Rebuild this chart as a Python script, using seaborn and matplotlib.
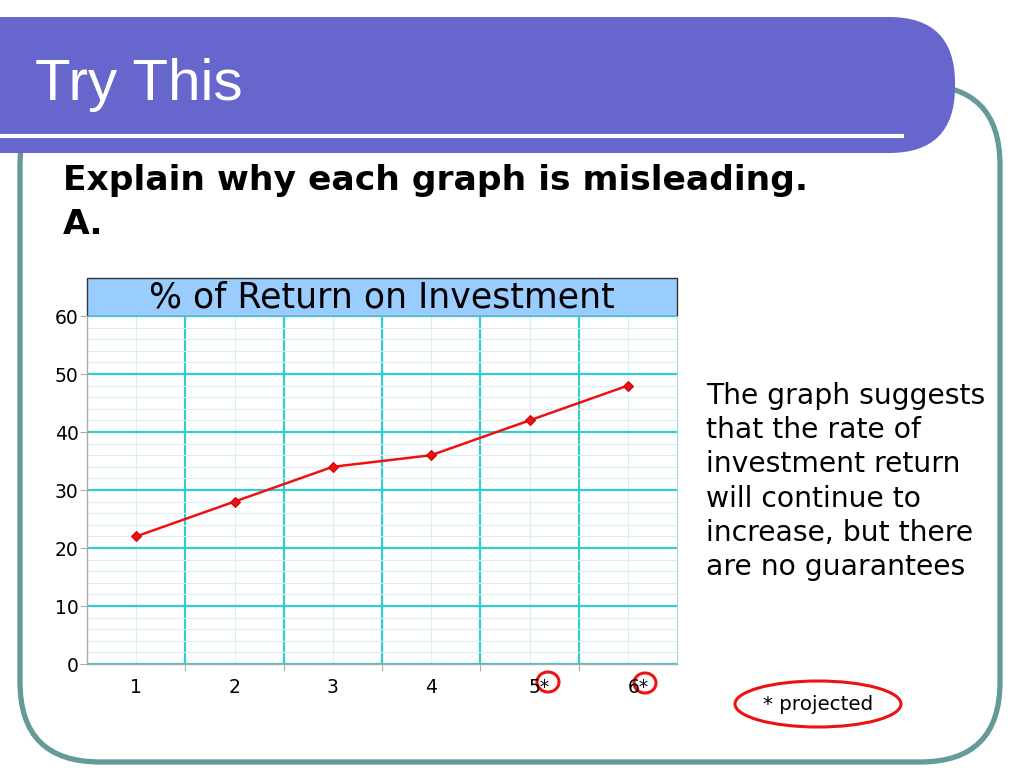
import matplotlib.pyplot as plt
import seaborn as sns
import pandas as pd
from matplotlib.patches import FancyBboxPatch, Rectangle, Ellipse
from matplotlib.transforms import ScaledTranslation

sns.set_style("white")
plt.rcParams['font.family'] = ['DejaVu Sans']
plt.rcParams['text.color'] = 'black'

# Data
periods = [1, 2, 3, 4, 5, 6]
period_labels = ['1', '2', '3', '4', '5*', '6*']
returns = [22, 28, 34, 36, 42, 48]
y_major = [0, 10, 20, 30, 40, 50, 60]
y_minor = list(range(0, 61, 2))
chart_title = '% of Return on Investment'
note_lines = ['The graph suggests', 'that the rate of', 'investment return',
              'will continue to', 'increase, but there', 'are no guarantees']

df = pd.DataFrame({'Period': periods, 'Return': returns})

W, H = 1024, 768
fig = plt.figure(figsize=(W / 100, H / 100), dpi=100)

# Slide decorations drawn in pixel coordinates
bg = fig.add_axes([0, 0, 1, 1], zorder=0)
bg.set_xlim(0, W)
bg.set_ylim(H, 0)
bg.axis('off')

bg.add_patch(FancyBboxPatch((20, 85), 980, 677, boxstyle='round,pad=0,rounding_size=80',
                            fc='none', ec='#669999', lw=3.8))
bg.add_patch(FancyBboxPatch((-200, 17), 1155, 136, boxstyle='round,pad=0,rounding_size=66',
                            fc='#6666CC', ec='none'))
bg.plot([0, 904], [136, 136], color='white', lw=3, solid_capstyle='butt')
bg.text(35, 100, 'Try This', color='white', fontsize=42, family='Liberation Sans', va='baseline')

bg.text(63, 190, 'Explain why each graph is misleading.', fontsize=24.8, fontweight='bold', va='baseline')
bg.text(63, 234, 'A.', fontsize=24.8, fontweight='bold', va='baseline')

# chart title box
bg.add_patch(Rectangle((87, 278), 590, 38, fc='#99CCFF', ec='#333333', lw=1))
bg.text(382, 298, chart_title, fontsize=25, ha='center', va='center')

for i, line in enumerate(note_lines):
    bg.text(706, 404 + 34.2 * i, line, fontsize=20.3, va='baseline')

bg.text(818, 704, '* projected', fontsize=14.3, ha='center', va='center')
bg.add_patch(Ellipse((818, 704), 166, 46, fc='none', ec='#EE1111', lw=2.2))
bg.add_patch(Ellipse((548, 682), 22, 20, fc='none', ec='#EE1111', lw=2.2))
bg.add_patch(Ellipse((645, 683), 22, 20, fc='none', ec='#EE1111', lw=2.2))

# The chart itself
ax = fig.add_axes([87 / W, 1 - 664 / H, 590 / W, 348 / H], zorder=1)
sns.lineplot(data=df, x='Period', y='Return', ax=ax, color='#EE1111', lw=1.8,
             marker='D', markersize=5, markeredgecolor='#CC0000')
ax.set_xlim(0.5, 6.5)
ax.set_ylim(0, 60)
ax.set_yticks(y_major)
ax.set_yticks(y_minor, minor=True)
ax.set_xticks([p + 0.5 for p in periods[:-1]])
ax.set_xticklabels([])
ax.set_xticks(periods, minor=True)
ax.set_xticklabels(period_labels, minor=True)
ax.set_axisbelow(True)
ax.grid(which='major', color='#33CCCC', lw=1.6)
ax.grid(which='minor', color='#DCEEF2', lw=0.8)
ax.tick_params(which='major', length=5, color='#AAAAAA', labelsize=13.5, labelcolor='black')
ax.tick_params(axis='y', which='major', left=True, pad=1)
ax.tick_params(axis='x', which='major', bottom=True)
ax.tick_params(which='minor', length=0)
ax.tick_params(axis='x', which='minor', labelsize=13.5, labelcolor='black', pad=10)
# keep the digit centred on its category, the asterisk hangs to the right
for lab in ax.get_xticklabels(minor=True):
    if lab.get_text().endswith('*'):
        lab.set_transform(lab.get_transform() + ScaledTranslation(0.1, 0, fig.dpi_scale_trans))
ax.set_xlabel('')
ax.set_ylabel('')
for side in ['left', 'bottom']:
    ax.spines[side].set_color('#AAAAAA')
    ax.spines[side].set_linewidth(1)
ax.spines['top'].set_visible(False)
ax.spines['right'].set_color('#99DDDD')
ax.spines['right'].set_linewidth(0.8)

fig.savefig('out.png', dpi=100)
